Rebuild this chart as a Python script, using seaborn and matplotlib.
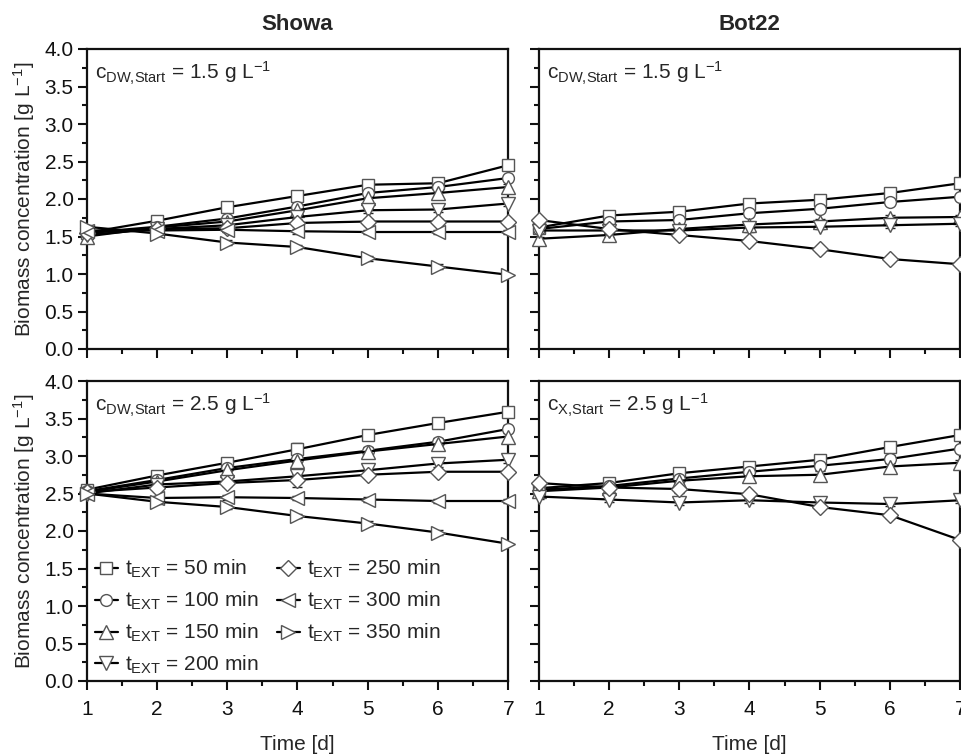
import matplotlib
matplotlib.use("Agg")
import matplotlib.pyplot as plt
from matplotlib.ticker import MultipleLocator
import seaborn as sns
import pandas as pd

# ---------------- data ----------------
days = [1, 2, 3, 4, 5, 6, 7]
t_ext = [50, 100, 150, 200, 250, 300, 350]

showa_15 = {
    50:  [1.55, 1.71, 1.89, 2.04, 2.19, 2.21, 2.45],
    100: [1.55, 1.63, 1.74, 1.90, 2.08, 2.16, 2.28],
    150: [1.50, 1.62, 1.70, 1.85, 2.01, 2.08, 2.16],
    200: [1.52, 1.60, 1.65, 1.76, 1.85, 1.86, 1.94],
    250: [1.55, 1.60, 1.61, 1.68, 1.70, 1.70, 1.70],
    300: [1.58, 1.58, 1.59, 1.57, 1.56, 1.56, 1.56],
    350: [1.63, 1.54, 1.42, 1.36, 1.21, 1.10, 0.99],
}
showa_15_err = {
    50:  [0.03, 0.03, 0.03, 0.03, 0.04, 0.04, 0.04],
    100: [0.03, 0.03, 0.03, 0.03, 0.03, 0.03, 0.04],
    150: [0.03, 0.03, 0.03, 0.03, 0.04, 0.05, 0.04],
    200: [0.03, 0.03, 0.03, 0.03, 0.03, 0.03, 0.03],
    250: [0.03, 0.03, 0.03, 0.03, 0.03, 0.03, 0.03],
    300: [0.03, 0.03, 0.03, 0.03, 0.03, 0.03, 0.03],
    350: [0.03, 0.03, 0.03, 0.03, 0.03, 0.03, 0.03],
}

bot22_15 = {
    50:  [1.62, 1.78, 1.83, 1.94, 1.99, 2.08, 2.21],
    100: [1.60, 1.70, 1.72, 1.81, 1.87, 1.96, 2.03],
    150: [1.47, 1.52, 1.60, 1.66, 1.70, 1.75, 1.76],
    200: [1.58, 1.58, 1.58, 1.62, 1.63, 1.65, 1.67],
    250: [1.72, 1.60, 1.52, 1.44, 1.33, 1.20, 1.13],
}
bot22_15_err = {
    50:  [0.03, 0.03, 0.03, 0.03, 0.03, 0.04, 0.03],
    100: [0.03, 0.03, 0.03, 0.03, 0.04, 0.03, 0.03],
    150: [0.03, 0.03, 0.03, 0.03, 0.03, 0.04, 0.03],
    200: [0.03, 0.03, 0.03, 0.06, 0.03, 0.03, 0.03],
    250: [0.03, 0.03, 0.03, 0.03, 0.03, 0.03, 0.03],
}

showa_25 = {
    50:  [2.55, 2.74, 2.91, 3.09, 3.28, 3.44, 3.59],
    100: [2.53, 2.68, 2.84, 2.96, 3.07, 3.19, 3.36],
    150: [2.52, 2.66, 2.81, 2.94, 3.06, 3.16, 3.26],
    200: [2.50, 2.62, 2.66, 2.73, 2.81, 2.90, 2.95],
    250: [2.52, 2.58, 2.64, 2.68, 2.75, 2.79, 2.79],
    300: [2.50, 2.44, 2.45, 2.44, 2.42, 2.40, 2.40],
    350: [2.50, 2.39, 2.32, 2.20, 2.10, 1.98, 1.83],
}
showa_25_err = {
    50:  [0.04, 0.03, 0.04, 0.09, 0.04, 0.03, 0.07],
    100: [0.03, 0.03, 0.03, 0.04, 0.05, 0.05, 0.05],
    150: [0.03, 0.03, 0.04, 0.05, 0.05, 0.05, 0.08],
    200: [0.03, 0.03, 0.03, 0.03, 0.04, 0.04, 0.04],
    250: [0.03, 0.12, 0.04, 0.09, 0.03, 0.03, 0.03],
    300: [0.03, 0.03, 0.03, 0.03, 0.03, 0.03, 0.03],
    350: [0.03, 0.03, 0.03, 0.03, 0.03, 0.03, 0.03],
}

bot22_25 = {
    50:  [2.57, 2.64, 2.77, 2.86, 2.95, 3.12, 3.28],
    100: [2.55, 2.60, 2.70, 2.79, 2.87, 2.96, 3.10],
    150: [2.53, 2.58, 2.67, 2.73, 2.75, 2.86, 2.91],
    200: [2.46, 2.42, 2.38, 2.41, 2.38, 2.36, 2.41],
    250: [2.64, 2.58, 2.56, 2.49, 2.32, 2.21, 1.88],
}
bot22_25_err = {
    50:  [0.03, 0.04, 0.04, 0.05, 0.05, 0.05, 0.04],
    100: [0.03, 0.04, 0.04, 0.05, 0.05, 0.05, 0.04],
    150: [0.03, 0.04, 0.05, 0.05, 0.05, 0.05, 0.04],
    200: [0.03, 0.03, 0.03, 0.03, 0.03, 0.03, 0.03],
    250: [0.03, 0.03, 0.05, 0.03, 0.03, 0.03, 0.03],
}

col_titles = ["Showa", "Bot22"]
panel_labels = [
    r"c$_{DW{,}Start}$ = 1.5 g L$^{-1}$",
    r"c$_{DW{,}Start}$ = 1.5 g L$^{-1}$",
    r"c$_{DW{,}Start}$ = 2.5 g L$^{-1}$",
    r"c$_{X{,}Start}$ = 2.5 g L$^{-1}$",
]
markers = {50: "s", 100: "o", 150: "^", 200: "v", 250: "D", 300: "<", 350: ">"}
msizes = {50: 8, 100: 8.5, 150: 9.5, 200: 9.5, 250: 8, 300: 9.5, 350: 9.5}

# ---------------- style ----------------
sns.set_theme(style="ticks")
plt.rcParams["font.family"] = ["Liberation Sans", "DejaVu Sans"]
plt.rcParams["mathtext.default"] = "regular"
plt.rcParams["axes.linewidth"] = 1.6
plt.rcParams["axes.edgecolor"] = "#111111"

W, H = 962, 756
fig = plt.figure(figsize=(W / 100, H / 100), dpi=100)

def fx(px):
    return px / W

def fy(py):
    return 1 - py / H

lefts = [86.7, 538.7]
width_px = 421.5
tops = [49, 381]
height_px = 300

panels = [[showa_15, bot22_15], [showa_25, bot22_25]]
errs = [[showa_15_err, bot22_15_err], [showa_25_err, bot22_25_err]]

for r in range(2):
    for c in range(2):
        ax = fig.add_axes([fx(lefts[c]), fy(tops[r] + height_px), fx(width_px), height_px / H])
        data = panels[r][c]
        err = errs[r][c]
        for t in t_ext:
            if t not in data:
                continue
            df = pd.DataFrame({"day": days, "conc": data[t]})
            ax.errorbar(days, data[t], yerr=err[t], fmt="none", ecolor="#222222",
                        elinewidth=1.0, capsize=3.5, capthick=1.0, zorder=2)
            sns.lineplot(data=df, x="day", y="conc", ax=ax, color="black",
                         linewidth=1.6, marker=markers[t], markersize=msizes[t],
                         markerfacecolor="white", markeredgecolor="#555555",
                         markeredgewidth=1.0, label=f"t$_{{EXT}}$ = {t} min",
                         zorder=3, clip_on=False)
        ax.set_xlim(1, 7)
        ax.set_ylim(0, 4.0)
        ax.xaxis.set_major_locator(MultipleLocator(1))
        ax.xaxis.set_minor_locator(MultipleLocator(0.5))
        ax.yaxis.set_major_locator(MultipleLocator(0.5))
        ax.yaxis.set_minor_locator(MultipleLocator(0.25))
        ax.tick_params(which="major", direction="out", length=6.5, width=1.5,
                       labelsize=15, colors="#111111")
        ax.tick_params(axis="x", which="major", pad=7)
        ax.tick_params(axis="y", which="major", pad=3)
        ax.tick_params(which="minor", direction="out", length=3.5, width=1.5,
                       colors="#111111")
        ax.tick_params(top=False, right=False, which="both")
        for s in ax.spines.values():
            s.set_visible(True)
            s.set_linewidth(1.6)
        ax.set_xlabel("")
        ax.set_ylabel("")
        if c == 1:
            ax.set_yticklabels([])
        else:
            ax.set_ylabel(r"Biomass concentration [g L$^{-1}$]", fontsize=15, labelpad=5)
            ax.set_yticklabels([f"{v:.1f}" for v in ax.get_yticks()])
        if r == 0:
            ax.set_xticklabels([])
            ax.set_title(col_titles[c], fontsize=16, fontweight="bold", pad=14)
        else:
            ax.set_xlabel("Time [d]", fontsize=15, labelpad=12)
        ax.text(0.02, 0.965, panel_labels[r * 2 + c], transform=ax.transAxes,
                ha="left", va="top", fontsize=15)
        lg = ax.get_legend()
        if lg is not None:
            lg.remove()
        if r == 1 and c == 0:
            handles, labels = ax.get_legend_handles_labels()
            ax.legend(handles, labels, loc="lower left", bbox_to_anchor=(-0.01, -0.025),
                      ncol=2, frameon=False, fontsize=15, handlelength=1.1,
                      handletextpad=0.35, labelspacing=0.46, columnspacing=0.85,
                      borderaxespad=0.2)

fig.savefig("out.png", dpi=100)
